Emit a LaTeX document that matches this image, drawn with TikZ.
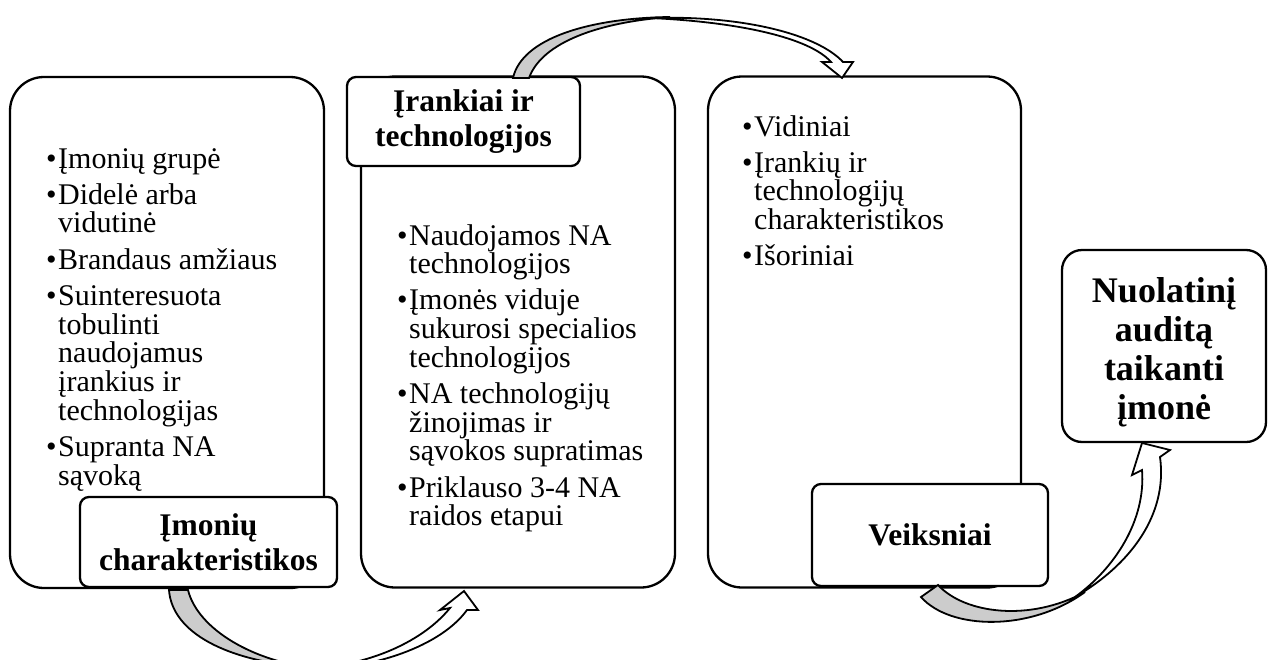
\documentclass[tikz,border=0pt]{standalone}
\usepackage{fontspec}
\setmainfont{Liberation Serif}
\newcommand\itm[1]{\par\hangindent=12pt\hangafter=1\noindent\makebox[12pt][l]{\textbullet}#1\par}
\newcommand\lstbox[2]{\parbox[t]{#1}{\fontsize{30}{28.7}\selectfont\lineskiplimit=-100pt\parskip=7.5pt\parindent=0pt #2}}
\begin{document}
\begin{tikzpicture}[x=1pt,y=-1pt,
  bigbox/.style={draw,line width=2.3pt,rounded corners=34pt,fill=white,inner sep=0pt,minimum width=314pt,minimum height=511pt},
  labbox/.style={draw,line width=2.3pt,rounded corners=9pt,fill=white,inner sep=0pt,align=center,
     font=\fontsize{31.5}{35}\selectfont\bfseries},
  listtext/.style={anchor=base west,inner sep=0pt},
  arrgray/.style={draw,line width=1.8pt,fill=gray!40,line join=miter},
  arrwhite/.style={draw,line width=1.8pt,fill=white,line join=miter}]
\useasboundingbox (0,0) rectangle (1269,659);
\clip (0,0) rectangle (1269,659);

% column 1
\node[bigbox] (b1) at (167,332.5) {};
\node[listtext] (t1) at (46,168) {\lstbox{275pt}{%
\itm{Įmonių grupė}
\itm{Didelė arba\\vidutinė}
\itm{Brandaus amžiaus}
\itm{Suinteresuota\\tobulinti\\naudojamus\\įrankius ir\\technologijas}
\itm{Supranta NA\\sąvoką}}};
\node[labbox,minimum width=257pt,minimum height=90pt] (l1) at (208.5,542) {Įmonių\\charakteristikos};

% column 2
\node[bigbox] (b2) at (518,332) {};
\node[labbox,minimum width=233pt,minimum height=89pt] (l2) at (463.5,121.5) {Įrankiai ir\\technologijos};
\node[listtext] (t2) at (397,245) {\lstbox{275pt}{%
\itm{Naudojamos NA\\technologijos}
\itm{Įmonės viduje\\sukurosi specialios\\technologijos}
\itm{NA technologijų\\žinojimas ir\\sąvokos supratimas}
\itm{Priklauso 3-4 NA\\raidos etapui}}};

% column 3
\node[bigbox,minimum width=313pt] (b3) at (864.5,332) {};
\node[listtext] (t3) at (742,136) {\lstbox{265pt}{%
\itm{Vidiniai}
\itm{Įrankių ir\\technologijų\\charakteristikos}
\itm{Išoriniai}}};
\node[labbox,minimum width=236pt,minimum height=102pt] (l3) at (930,535) {Veiksniai};

% result
\node[labbox,rounded corners=20pt,minimum width=204pt,minimum height=192pt] (r) at (1164,346) {};
\node[inner sep=0pt,align=center,font=\fontsize{36}{39}\selectfont\bfseries] (rt) at (1164,352) {Nuolatinį\\auditą\\taikanti\\įmonė};

% arrow 1 (bottom, column 1 -> column 2)
\path[arrgray] (169,590) -- (188,590) .. controls (198,630) and (255,662) .. (315,668)
  .. controls (225,662) and (172,632) .. (169,590) -- cycle;
\path[arrwhite] (305,668) .. controls (360,672) and (438,650) .. (467,610) -- (478,610) -- (464,591)
  -- (440,610) -- (450,608) .. controls (420,645) and (360,668) .. (305,668) -- cycle;

% arrow 2 (top, column 2 -> column 3)
\path[arrgray] (513,78) .. controls (522,38) and (590,18) .. (670,17)
  .. controls (600,22) and (542,42) .. (529,78) -- cycle;
\path[arrwhite] (650,18) .. controls (745,15) and (818,35) .. (843,62) -- (853,62) -- (842,78)
  -- (822,62) -- (831,62) .. controls (810,38) and (740,22) .. (650,18) -- cycle;

% arrow 3 (bottom right, column 3 -> result)
\path[arrgray] (921,597) -- (938,585) .. controls (965,614) and (1030,622) .. (1085,592)
  .. controls (1030,632) and (950,630) .. (921,597) -- cycle;
\path[arrwhite] (1075,597) .. controls (1130,565) and (1168,515) .. (1160,457) -- (1170,450) -- (1142,443)
  -- (1132,475) -- (1142,470) .. controls (1146,520) and (1115,568) .. (1075,597) -- cycle;
\end{tikzpicture}
\end{document}
